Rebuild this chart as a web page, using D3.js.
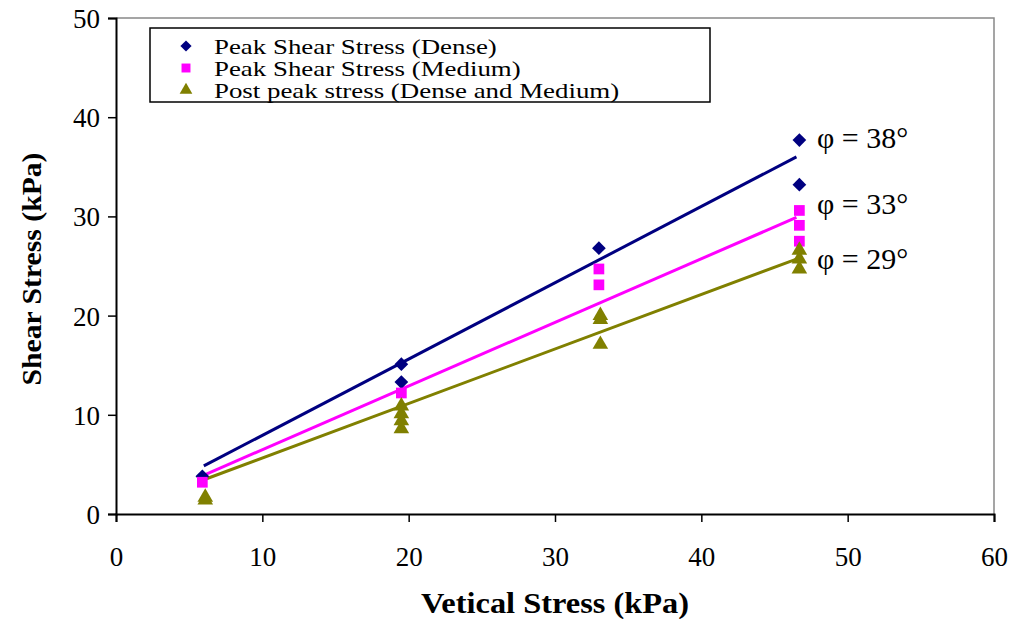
<!DOCTYPE html>
<html>
<head>
<meta charset="utf-8">
<script src="https://cdn.jsdelivr.net/npm/d3@7"></script>
<style>
  body { margin: 0; background: #fff; }
  svg text { font-family: "Liberation Serif", "Times New Roman", serif; }
</style>
</head>
<body>
<div id="chart"></div>
<script>
// === Data ===
const xTicks = [0, 10, 20, 30, 40, 50, 60];
const yTicks = [0, 10, 20, 30, 40, 50];

// Peak shear stress, dense samples [vertical, shear]
const denseX = [5.9, 19.5, 19.5, 33, 46.7, 46.7];
const denseY = [3.8, 15.1, 13.3, 26.8, 37.7, 33.2];

// Peak shear stress, medium samples
const mediumX = [5.9, 19.5, 33, 33, 46.7, 46.7, 46.7];
const mediumY = [3.2, 12.2, 24.7, 23.1, 30.6, 29.1, 27.5];

// Post peak stress, dense and medium
const postX = [6.1, 6.1, 19.5, 19.5, 19.5, 19.5, 33.1, 33.1, 33.1, 46.7, 46.7, 46.7];
const postY = [1.8, 1.5, 11.0, 10.2, 9.5, 8.7, 20.1, 19.7, 17.2, 26.7, 25.8, 24.8];

// Trend lines: [x start, y start, x end, y end]
const denseFit = [6.0, 4.85, 46.5, 36.0];
const mediumFit = [5.9, 3.85, 46.5, 29.9];
const postFit = [6.0, 3.45, 46.5, 25.7];

const fitLabels = ['\u03c6 = 38\u00b0', '\u03c6 = 33\u00b0', '\u03c6 = 29\u00b0'];
const fitLabelY = [38.0, 31.3, 25.8];

const legendLabels = [
    'Peak Shear Stress (Dense)',
    'Peak Shear Stress (Medium)',
    'Post peak stress (Dense and Medium)'
];

// === Layout ===
const width = 1018, height = 619;
const margin = { left: 116, right: 24, top: 18, bottom: 105 };

const svg = d3.select('#chart')
    .append('svg')
    .attr('width', width)
    .attr('height', height);

const x = d3.scaleLinear().domain([0, 60]).range([margin.left, width - margin.right]);
const y = d3.scaleLinear().domain([0, 50]).range([height - margin.bottom, margin.top]);

// plot frame (grey top/right)
svg.append('path')
    .attr('d', `M${x(0)},${y(50)}H${x(60)}V${y(0)}`)
    .attr('fill', 'none')
    .attr('stroke', '#888')
    .attr('stroke-width', 1.5);

// axes
const xAxis = svg.append('g')
    .attr('transform', `translate(0,${y(0)})`)
    .call(d3.axisBottom(x).tickValues(xTicks).tickSize(8).tickPadding(20));
const yAxis = svg.append('g')
    .attr('transform', `translate(${x(0)},0)`)
    .call(d3.axisLeft(y).tickValues(yTicks).tickSize(8).tickPadding(8));

[xAxis, yAxis].forEach(g => {
    g.select('.domain').attr('stroke', '#000').attr('stroke-width', 2);
    g.selectAll('.tick line').attr('stroke', '#000').attr('stroke-width', 1.5);
    g.selectAll('.tick text')
        .attr('fill', '#000')
        .style('font-family', '"Liberation Serif", serif')
        .style('font-size', '27px');
});
yAxis.selectAll('.tick text').attr('dy', '0.35em');
xAxis.selectAll('.tick text').attr('dy', '0.9em');

// axis titles
svg.append('text')
    .attr('transform', `translate(${(x(0) + x(60)) / 2},613) scale(1.08,1)`)
    .attr('text-anchor', 'middle')
    .style('font-size', '30px')
    .style('font-weight', 'bold')
    .text('Vetical Stress (kPa)');

svg.append('text')
    .attr('transform', `translate(41,${(y(0) + y(50)) / 2 + 3}) rotate(-90) scale(1.06,1)`)
    .attr('text-anchor', 'middle')
    .style('font-size', '28px')
    .style('font-weight', 'bold')
    .text('Shear Stress (kPa)');

// trend lines
const fits = [
    { f: denseFit, color: '#000080' },
    { f: mediumFit, color: '#FF00FF' },
    { f: postFit, color: '#808000' }
];
fits.forEach(d => {
    svg.append('line')
        .attr('x1', x(d.f[0])).attr('y1', y(d.f[1]))
        .attr('x2', x(d.f[2])).attr('y2', y(d.f[3]))
        .attr('stroke', d.color)
        .attr('stroke-width', 3);
});

// markers
const diamond = d3.symbol().type(d3.symbolDiamond2).size(120);
const square = d3.symbol().type(d3.symbolSquare).size(115);
const triangle = d3.symbol().type(d3.symbolTriangle).size(105);

function drawSeries(xs, ys, sym, color, dy) {
    svg.append('g')
        .selectAll('path')
        .data(xs.map((v, i) => [v, ys[i]]))
        .enter()
        .append('path')
        .attr('d', sym)
        .attr('transform', d => `translate(${x(d[0])},${y(d[1]) + (dy || 0)})`)
        .attr('fill', color);
}

drawSeries(denseX, denseY, diamond, '#000080');
drawSeries(mediumX, mediumY, square, '#FF00FF');
drawSeries(postX, postY, triangle, '#808000', 1);

// phi labels
svg.append('g')
    .selectAll('text')
    .data(fitLabels)
    .enter()
    .append('text')
    .attr('x', 817)
    .attr('y', (d, i) => y(fitLabelY[i]))
    .attr('dy', '0.35em')
    .style('font-size', '30px')
    .text(d => d);

// legend
const legend = svg.append('g');
legend.append('rect')
    .attr('x', 150).attr('y', 28)
    .attr('width', 560).attr('height', 74)
    .attr('fill', '#fff')
    .attr('stroke', '#000')
    .attr('stroke-width', 1.5);

const legendSyms = [
    { sym: d3.symbol().type(d3.symbolDiamond2).size(80), color: '#000080' },
    { sym: d3.symbol().type(d3.symbolSquare).size(80), color: '#FF00FF' },
    { sym: d3.symbol().type(d3.symbolTriangle).size(70), color: '#808000' }
];
legendLabels.forEach((label, i) => {
    const ly = 46 + i * 22;
    legend.append('path')
        .attr('d', legendSyms[i].sym)
        .attr('transform', `translate(186,${ly})`)
        .attr('fill', legendSyms[i].color);
    legend.append('text')
        .attr('transform', `translate(214,${ly}) scale(1.25,1)`)
        .attr('dy', '0.35em')
        .style('font-size', '21.5px')
        .text(label);
});
</script>
</body>
</html>
